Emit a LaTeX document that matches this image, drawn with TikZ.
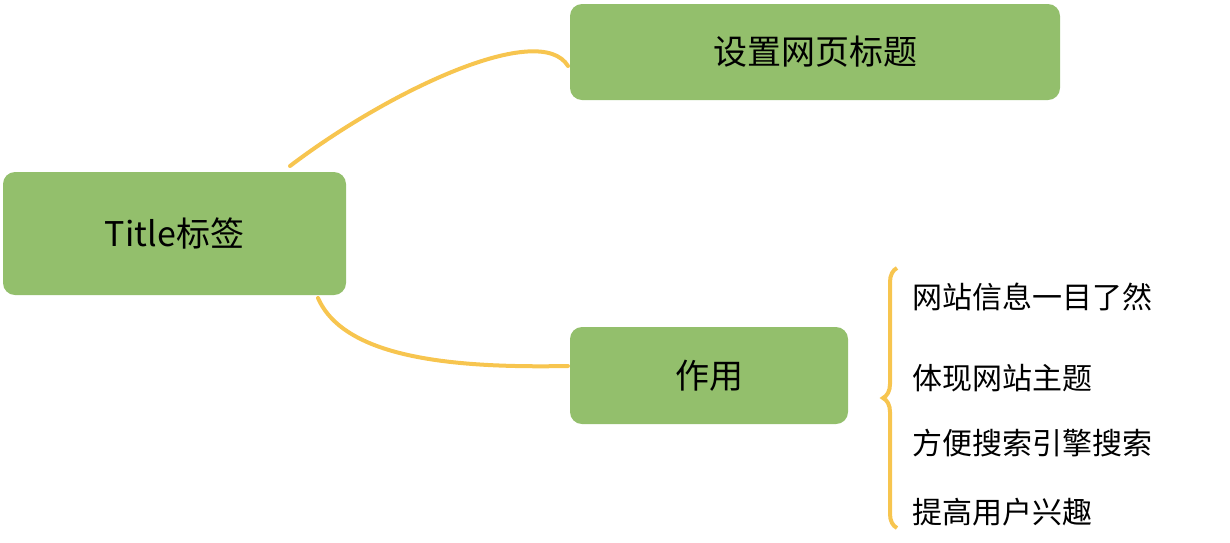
\documentclass[tikz,border=0pt]{standalone}
\usepackage{fontspec}
\setmainfont{Noto Sans CJK SC}
\usetikzlibrary{decorations.pathreplacing}
\definecolor{boxg}{HTML}{93BF6C}
\definecolor{lineY}{HTML}{F7C54F}
\begin{document}
\begin{tikzpicture}[x=1pt,y=-1pt,
  gbox/.style={fill=boxg,rounded corners=12pt,inner sep=0pt,font=\fontsize{34}{40}\selectfont},
  leaf/.style={anchor=west,inner sep=0pt,font=\fontsize{30}{36}\selectfont},
  conn/.style={draw=lineY,line width=4pt,line cap=round}]
\useasboundingbox (0,0) rectangle (1230,542);
\node[gbox,minimum width=343pt,minimum height=123pt] (t) at (174.5,233.5) {Title标签};
\node[gbox,minimum width=490pt,minimum height=96pt] (a) at (815,52) {设置网页标题};
\node[gbox,minimum width=278pt,minimum height=97pt] (b) at (709,375.5) {作用};
\coordinate (t1) at (290,166);
\coordinate (t2) at (318,298);
\coordinate (a1) at (568,66);
\coordinate (b1) at (568,366);
\draw[conn] (t1) .. controls (390,90) and (540,20) .. (a1);
\draw[conn] (t2) .. controls (345,360) and (460,368) .. (b1);
\draw[draw=lineY,line width=4pt,decorate,decoration={brace,amplitude=14pt,mirror}]
  (897,268) -- (897,528);
\node[leaf] (l1) at (912,297) {网站信息一目了然};
\node[leaf] (l2) at (912,378) {体现网站主题};
\node[leaf] (l3) at (912,443) {方便搜索引擎搜索};
\node[leaf] (l4) at (912,512) {提高用户兴趣};
\end{tikzpicture}
\end{document}
